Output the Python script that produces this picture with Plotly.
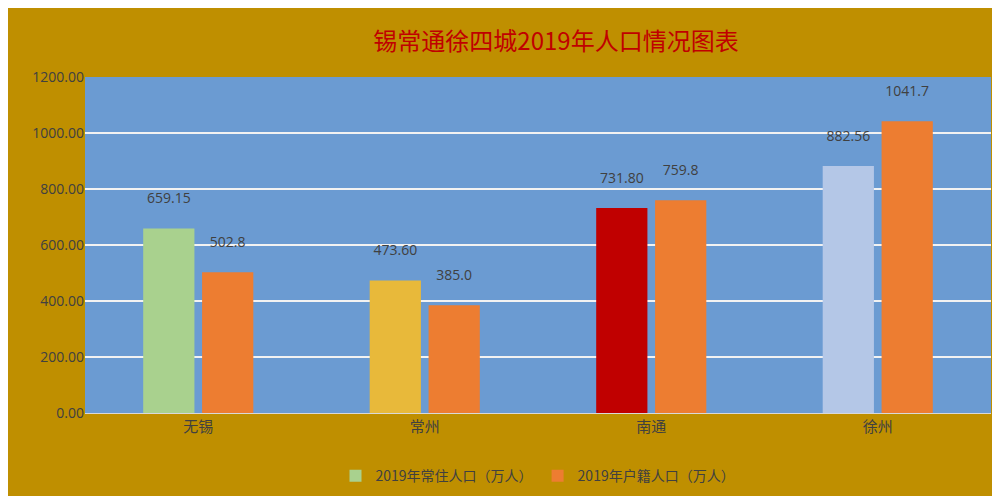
import plotly.graph_objs as go

cities = ["无锡", "常州", "南通", "徐州"]
resident = [659.15, 473.60, 731.80, 882.56]
registered = [502.8, 385.0, 759.8, 1041.7]
resident_colors = ["#A9D18E", "#E8B93A", "#C00000", "#B4C7E7"]

fig = go.Figure()
fig.add_trace(go.Bar(
    x=cities, y=resident, name="2019年常住人口（万人）",
    marker=dict(color=resident_colors, line=dict(width=0)),
    text=["%.2f<br> " % v for v in resident], textposition="outside",
    textfont=dict(color="#404040", size=14),
))
fig.add_trace(go.Bar(
    x=cities, y=registered, name="2019年户籍人口（万人）",
    marker=dict(color="#ED7D31", line=dict(width=0)),
    text=["%.1f<br> " % v for v in registered], textposition="outside",
    textfont=dict(color="#404040", size=14),
))
fig.update_layout(
    width=1000, height=496,
    paper_bgcolor="#BF8F00",
    plot_bgcolor="#6B9BD2",
    title=dict(text="锡常通徐四城2019年人口情况图表", x=0.548, y=0.95,
               font=dict(family="Noto Sans CJK SC", size=24, color="#C00000")),
    margin=dict(l=77, r=17, t=69, b=86),
    barmode="group", bargap=0.48, bargroupgap=0.13,
    xaxis=dict(tickfont=dict(family="Noto Sans CJK SC", size=15, color="#404040"),
               showline=True, linecolor="#D9D9D9"),
    yaxis=dict(range=[0, 1200], dtick=200, tickformat=".2f",
               tickfont=dict(size=14, color="#404040"),
               gridcolor="#F2F2F2", gridwidth=1.5, zeroline=False),
    legend=dict(orientation="h", x=0.5, xanchor="center", y=-0.14,
                font=dict(family="Noto Sans CJK SC", size=14, color="#404040")),
)
fig.update_traces(cliponaxis=False)
fig.write_html("out.html")
